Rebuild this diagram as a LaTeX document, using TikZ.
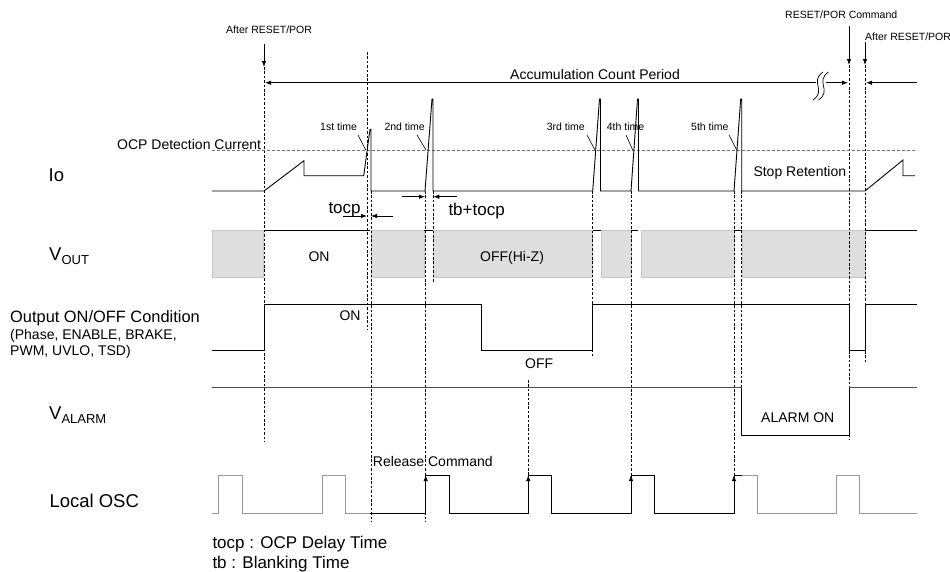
\documentclass[tikz,border=0pt]{standalone}
\usepackage{fontspec}
\setmainfont{Liberation Sans}
\usetikzlibrary{arrows.meta}
\newcommand{\subtxt}[1]{\raisebox{-4.5pt}{\fontsize{13}{13}\selectfont #1}}
\begin{document}
\begin{tikzpicture}[x=1pt,y=-1pt,
 sig/.style={line width=0.9pt,line join=miter},
 vline/.style={line width=0.6pt,dash pattern=on 2.6pt off 1.8pt},
 thr/.style={line width=0.6pt,black!55,dash pattern=on 3pt off 2pt},
 shade/.style={fill=black!13,draw=black!22,line width=0.8pt},
 tip/.style={-{Latex[length=6pt,width=4.5pt]},line width=0.8pt},
 big/.style={font=\fontsize{18.5}{20}\selectfont,anchor=base west,inner sep=0},
 mid/.style={font=\fontsize{14}{16}\selectfont,anchor=base west,inner sep=0},
 tl/.style={font=\fontsize{17}{19}\selectfont,anchor=base west,inner sep=0},
 sml/.style={font=\fontsize{10.5}{12}\selectfont,anchor=base west,inner sep=0},
 oscg/.style={line width=0.8pt,black!40},
 almline/.style={line width=1.3pt,black!70}]
\useasboundingbox (0,0) rectangle (950,571);

% ---------- VOUT shaded boxes ----------
\foreach \a/\b in {212/263.3,371/424.3,433.3/592.3,601.7/631,641/734,742.3/865}
  \draw[shade] (\a,230) rectangle (\b,277.3);

% ---------- vertical dashed lines ----------
\draw[vline] (264,67) -- (264,442);
\draw[vline] (367,52) -- (367,330);
\draw[vline] (371,191) -- (371,522);
\draw[vline] (425.5,191) -- (425.5,522);
\draw[vline] (433.3,191) -- (433.3,282);
\draw[vline] (592.7,191) -- (592.7,357);
\draw[vline] (631,191) -- (631,475);
\draw[vline] (528.3,380) -- (528.3,475);
\draw[vline] (734,191) -- (734,475);
\draw[vline] (741.7,191) -- (741.7,435);
\draw[vline] (849,65) -- (849,440);
\draw[vline] (865,65) -- (865,362);

% ---------- OCP threshold ----------
\draw[thr] (212,150.7) -- (917,150.7);

% ---------- top labels and arrows ----------
\node[sml] (ar1) at (226,33.3) {After RESET/POR};
\node[sml] (rpc) at (785,18.3) {RESET/POR Command};
\node[sml] (ar2) at (865,40) {After RESET/POR};
\coordinate (a1s) at (264,44); \coordinate (a1e) at (264,67);
\coordinate (a2s) at (849,26); \coordinate (a2e) at (849,65);
\coordinate (a3s) at (865,42); \coordinate (a3e) at (865,65);
\draw[tip] (a1s) -- (a1e);
\draw[tip] (a2s) -- (a2e);
\draw[tip] (a3s) -- (a3e);

\node[mid] (acc) at (510,79) {Accumulation Count Period};
\coordinate (accL) at (265,82.7);
\coordinate (brk1) at (818,82.7);
\coordinate (brk2) at (824,82.7);
\coordinate (accR) at (848,82.7);
\coordinate (acc2R) at (916.7,82.7);
\coordinate (acc2L) at (866,82.7);
\draw[tip] (brk1) -- (accL);
\draw[tip] (brk2) -- (accR);
\draw[tip] (acc2R) -- (acc2L);
\fill[white] (816,70) rectangle (826,101);
\draw[line width=0.7pt] (813,100) .. controls (827,90) and (809,82) .. (823,72);
\draw[line width=0.7pt] (818.5,100) .. controls (832.5,90) and (814.5,82) .. (828.5,72);

% ---------- Io ----------
\node[big] (io) at (48.5,181.7) {Io};
\node[mid] (ocp) at (117,149.3) {OCP Detection Current};
\draw[sig] (212,191) -- (264,191) -- (304,160.7) -- (304,175.7) -- (363.7,175.7)
  -- (370,129.3) -- (371,129.3) -- (371,191) -- (425,191) -- (432,99) -- (433,99)
  -- (433,191) -- (592.7,191) -- (599.5,99) -- (600.5,99) -- (600.5,191)
  -- (631,191) -- (637.5,99) -- (638.5,99) -- (638.5,191) -- (734,191)
  -- (740.7,99) -- (741.7,99) -- (741.7,191) -- (865,191) -- (903,160)
  -- (903,175.7) -- (915,175.7);

\node[sml] (t1) at (320,130) {1st time};
\node[sml] (t2) at (384.3,130) {2nd time};
\node[sml] (t3) at (546.7,130) {3rd time};
\node[sml] (t4) at (606.7,130) {4th time};
\node[sml] (t5) at (691,130) {5th time};
\draw[line width=0.6pt] (358,135) -- (365.7,150);
\draw[line width=0.6pt] (417,135) -- (426,150);
\draw[line width=0.6pt] (587,135) -- (595,150);
\draw[line width=0.6pt] (626,135) -- (632.7,150);
\draw[line width=0.6pt] (729,135) -- (736.7,150);
\node[mid] (stop) at (753.3,176.7) {Stop Retention};

% tocp / tb+tocp
\node[tl] (tocp) at (328.3,213.5) {tocp};
\node[tl] (tbtocp) at (448.3,215) {tb+tocp};
\draw[tip] (343,216) -- (367,216);
\draw[tip] (393.3,216) -- (371,216);
\draw[tip] (401.7,196.7) -- (425,196.7);
\draw[tip] (456.7,196.7) -- (433.3,196.7);

% ---------- VOUT ----------
\node[big] (vout) at (49,260) {V\subtxt{OUT}};
\draw[sig] (264,230) -- (370,230);
\draw[sig] (424.3,230) -- (433.3,230);
\draw[sig] (592.7,230) -- (600.7,230);
\draw[sig] (631,230) -- (638.3,230);
\draw[sig] (734,230) -- (741.7,230);
\draw[sig] (865,230) -- (916.7,230);
\node[mid] (von) at (308.3,261.7) {ON};
\node[mid] (voff) at (480,261.7) {OFF(Hi-Z)};

% ---------- Output ON/OFF condition ----------
\node[big,font=\fontsize{16.4}{18}\selectfont] (outc) at (10,322.3) {Output ON/OFF Condition};
\node[mid] (outc2) at (10,339.5) {(Phase, ENABLE, BRAKE,};
\node[mid] (outc3) at (10,355.5) {PWM, UVLO, TSD)};
\draw[sig] (212,350.7) -- (264,350.7) -- (264,304) -- (481.7,304) -- (481.7,350.7)
  -- (592.7,350.7) -- (592.7,304) -- (849,304) -- (849,350.7) -- (865,350.7)
  -- (865,304) -- (916.7,304);
\node[mid] (oon) at (339.3,320) {ON};
\node[mid] (ooff) at (525,368.3) {OFF};

% ---------- VALARM ----------
\node[big] (valm) at (49,419.3) {V\subtxt{ALARM}};
\draw[almline] (212,387.7) -- (741.7,387.7);
\draw[almline] (849,387.7) -- (916.7,387.7);
\draw[sig] (741.7,387.7) -- (741.7,435) -- (849,435) -- (849,387.7);
\node[mid] (alon) at (761,422.3) {ALARM ON};

% ---------- Local OSC ----------
\node[big] (osc) at (49.3,507.3) {Local OSC};
\node[mid] (rel) at (372.7,466) {Release Command};
\draw[oscg] (212,513.3) -- (218.3,513.3) -- (218.3,475) -- (242.3,475) -- (242.3,513.3)
  -- (322.7,513.3) -- (322.7,475) -- (345.7,475) -- (345.7,513.3) -- (370,513.3);
\draw[sig] (370,513.3) -- (425.7,513.3) -- (425.7,475) -- (449,475) -- (449,513.3)
  -- (528.3,513.3) -- (528.3,475) -- (551.7,475) -- (551.7,513.3)
  -- (631,513.3) -- (631,475) -- (654.3,475) -- (654.3,513.3)
  -- (734,513.3) -- (734,475) -- (741.7,475);
\draw[oscg] (741.7,475) -- (757.3,475) -- (757.3,513.3) -- (836.7,513.3) -- (836.7,475)
  -- (859.3,475) -- (859.3,513.3) -- (916.7,513.3);
\foreach \x in {425.7,528.3,631,734}
  \draw[-{Latex[length=6pt,width=4.5pt]},line width=0.9pt] (\x,490) -- (\x,475);

% ---------- legend ----------
\node[tl] (lg1) at (212.3,548.5) {tocp : OCP Delay Time};
\node[tl] (lg2) at (212.3,568.5) {tb : Blanking Time};
\end{tikzpicture}
\end{document}
